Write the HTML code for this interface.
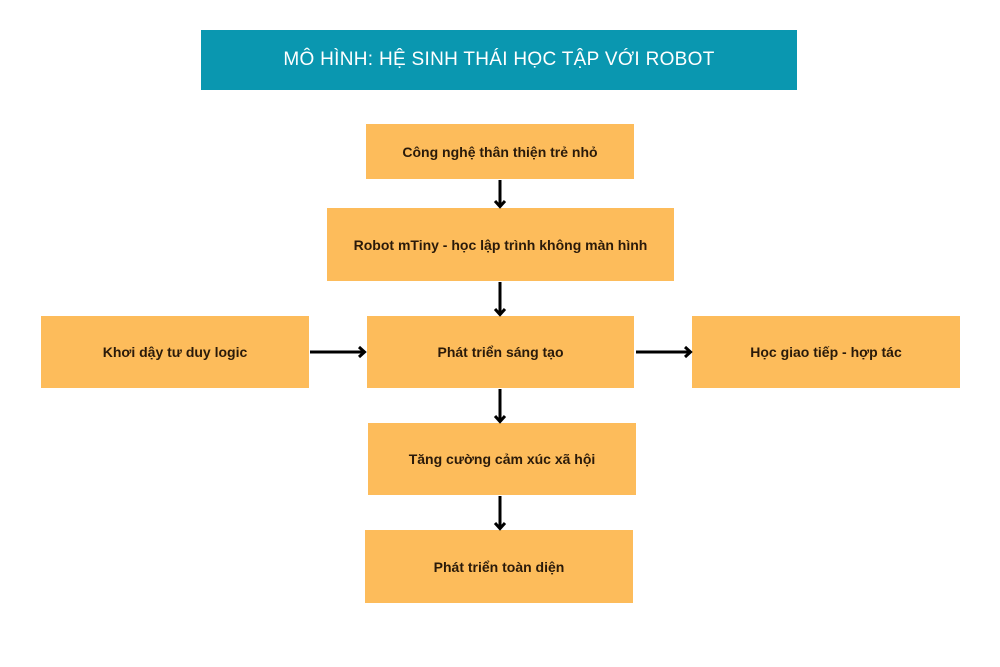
<!DOCTYPE html><html><head><meta charset="utf-8"><style>
body{margin:0;width:1000px;height:667px;background:#fff;position:relative;font-family:"Liberation Sans",sans-serif;overflow:hidden}
.b{position:absolute;background:#fdbc5b;display:flex;align-items:center;justify-content:center;font-size:14px;font-weight:bold;color:#2a1a0a}
.t{position:absolute;left:201px;top:30px;width:596px;height:60px;background:#0a97b0;color:#fff;display:flex;align-items:center;justify-content:center;font-size:19px;letter-spacing:0.3px}
svg{position:absolute;left:0;top:0}
</style></head><body>
<div class="t">MÔ HÌNH: HỆ SINH THÁI HỌC TẬP VỚI ROBOT</div>
<div class="b" style="left:366px;top:124px;width:268px;height:55px">Công nghệ thân thiện trẻ nhỏ</div>
<div class="b" style="left:327px;top:208px;width:347px;height:73px">Robot mTiny - học lập trình không màn hình</div>
<div class="b" style="left:41px;top:316px;width:268px;height:72px">Khơi dậy tư duy logic</div>
<div class="b" style="left:367px;top:316px;width:267px;height:72px">Phát triển sáng tạo</div>
<div class="b" style="left:692px;top:316px;width:268px;height:72px">Học giao tiếp - hợp tác</div>
<div class="b" style="left:368px;top:423px;width:268px;height:72px">Tăng cường cảm xúc xã hội</div>
<div class="b" style="left:365px;top:530px;width:268px;height:73px">Phát triển toàn diện</div>
<svg width="1000" height="667"><defs><marker id="a" markerWidth="14" markerHeight="14" refX="11" refY="7" orient="auto" markerUnits="userSpaceOnUse"><path d="M5,2 L10.5,7 L5,12" fill="none" stroke="#000" stroke-width="3"/></marker></defs>
<g stroke="#000" stroke-width="3" marker-end="url(#a)">
<line x1="500" y1="180" x2="500" y2="207"/>
<line x1="500" y1="282" x2="500" y2="315"/>
<line x1="500" y1="389" x2="500" y2="422"/>
<line x1="500" y1="496" x2="500" y2="529"/>
<line x1="310" y1="352" x2="365" y2="352"/>
<line x1="636" y1="352" x2="691" y2="352"/>
</g></svg>
</body></html>
